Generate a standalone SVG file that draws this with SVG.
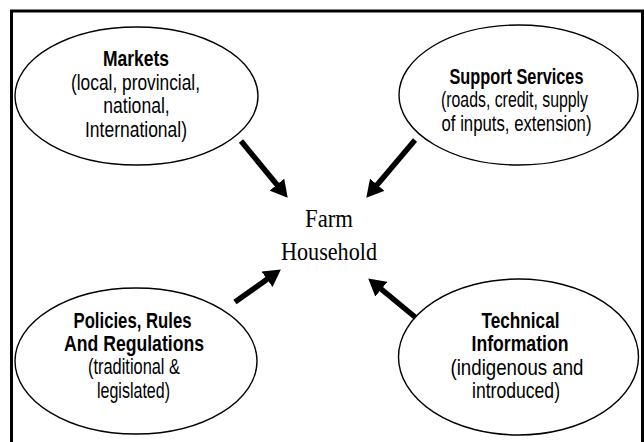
<svg xmlns="http://www.w3.org/2000/svg" width="644" height="442" viewBox="0 0 644 442">
<style>
.frame{fill:none;stroke:#000;stroke-width:3}
.node ellipse{fill:#fff;stroke:#000;stroke-width:1.4}
.lbl{font-family:"Liberation Sans",Arial,sans-serif;font-size:22.5px;fill:#000;text-anchor:middle}
.b{font-weight:bold}
.center{font-family:"Liberation Serif","Times New Roman",serif;font-size:26px;fill:#000;text-anchor:middle}
.conn line{stroke:#000;stroke-width:5.5;fill:none;marker-end:url(#ah)}
</style>
<defs>
<marker id="ah" markerUnits="userSpaceOnUse" markerWidth="17" markerHeight="19" refX="6" refY="9.5" orient="auto" viewBox="0 0 17 19">
<path d="M0,0 L17,9.5 L0,19 z" fill="#000"/>
</marker>
</defs>
<rect class="frame" x="11.5" y="11" width="631" height="440"/>
<g id="center-node">
<text class="center" x="329" y="227" textLength="48" lengthAdjust="spacingAndGlyphs">Farm</text>
<text class="center" x="329" y="259.5" textLength="96" lengthAdjust="spacingAndGlyphs">Household</text>
</g>
<g id="markets" class="node">
<ellipse cx="136.5" cy="96" rx="121.5" ry="69"/>
<text class="lbl b" x="136" y="66" textLength="66" lengthAdjust="spacingAndGlyphs">Markets</text>
<text class="lbl" x="135.5" y="89.5" textLength="129" lengthAdjust="spacingAndGlyphs">(local, provincial,</text>
<text class="lbl" x="136.5" y="113" textLength="66.5" lengthAdjust="spacingAndGlyphs">national,</text>
<text class="lbl" x="136" y="136.5" textLength="102" lengthAdjust="spacingAndGlyphs">International)</text>
</g>
<g id="support" class="node">
<ellipse cx="518.5" cy="95" rx="119.5" ry="70"/>
<text class="lbl b" x="516.5" y="83.5" textLength="134" lengthAdjust="spacingAndGlyphs">Support Services</text>
<text class="lbl" x="514.5" y="107" textLength="147" lengthAdjust="spacingAndGlyphs">(roads, credit, supply</text>
<text class="lbl" x="516.5" y="130.5" textLength="150" lengthAdjust="spacingAndGlyphs">of inputs, extension)</text>
</g>
<g id="policies" class="node">
<ellipse cx="136" cy="361" rx="121" ry="73"/>
<text class="lbl b" x="132.5" y="327.5" textLength="118" lengthAdjust="spacingAndGlyphs">Policies, Rules</text>
<text class="lbl b" x="134" y="351" textLength="140" lengthAdjust="spacingAndGlyphs">And Regulations</text>
<text class="lbl" x="134" y="374" textLength="92" lengthAdjust="spacingAndGlyphs">(traditional &amp;</text>
<text class="lbl" x="133.5" y="397.5" textLength="73" lengthAdjust="spacingAndGlyphs">legislated)</text>
</g>
<g id="technical" class="node">
<ellipse cx="518.5" cy="357" rx="120" ry="78"/>
<text class="lbl b" x="520.5" y="327.5" textLength="78" lengthAdjust="spacingAndGlyphs">Technical</text>
<text class="lbl b" x="520" y="351" textLength="97" lengthAdjust="spacingAndGlyphs">Information</text>
<text class="lbl" x="517" y="374.5" textLength="133" lengthAdjust="spacingAndGlyphs">(indigenous and</text>
<text class="lbl" x="516" y="398" textLength="88" lengthAdjust="spacingAndGlyphs">introduced)</text>
</g>
<g id="connectors" class="conn">
<line x1="241" y1="141" x2="280.7" y2="189.3"/>
<line x1="415" y1="140" x2="373.4" y2="189.3"/>
<line x1="235" y1="302" x2="271.9" y2="275.8"/>
<line x1="415" y1="317" x2="376.7" y2="285.4"/>
</g>
</svg>
